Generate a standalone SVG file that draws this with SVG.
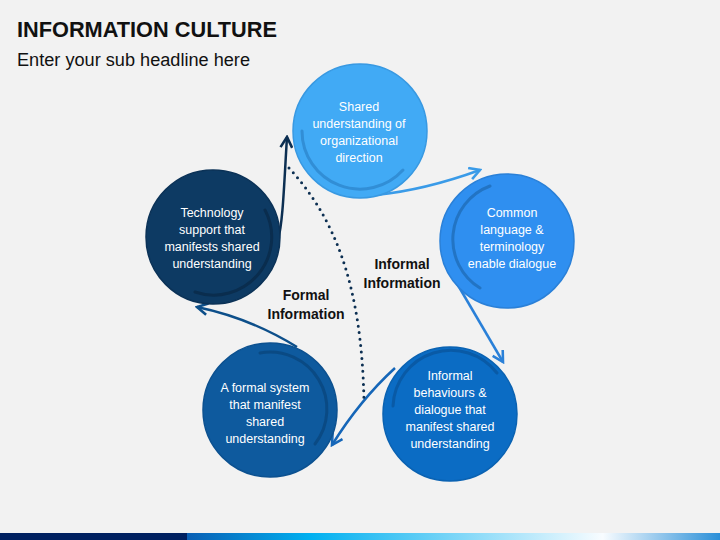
<svg xmlns="http://www.w3.org/2000/svg" width="720" height="540" viewBox="0 0 720 540">
  <style>
    .title { font-family: "Liberation Sans", Arial, sans-serif; font-weight: bold; font-size: 22px; fill: #111; }
    .sub { font-family: "Liberation Sans", Arial, sans-serif; font-size: 18px; fill: #111; }
    .nt { font-family: "Liberation Sans", Arial, sans-serif; font-size: 12.5px; fill: #ffffff; text-anchor: middle; }
    .lbl { font-family: "Liberation Sans", Arial, sans-serif; font-weight: bold; font-size: 14px; fill: #111; text-anchor: middle; }
    .arc { fill: none; stroke-width: 3; stroke-linecap: round; }
    .con { fill: none; stroke-width: 2.5; }
  </style>
  <defs>
    <linearGradient id="bar" x1="0" y1="0" x2="1" y2="0">
      <stop offset="0" stop-color="#0a5fb4"/>
      <stop offset="0.23" stop-color="#00b0f0"/>
      <stop offset="0.78" stop-color="#f8fcff"/>
      <stop offset="1" stop-color="#2a8fd8"/>
    </linearGradient>
    <marker id="a1" viewBox="0 0 12 12" refX="10" refY="6" markerWidth="14" markerHeight="14" markerUnits="userSpaceOnUse" orient="auto">
      <path d="M1,1 L10,6 L1,11" fill="none" stroke="#3a9be8" stroke-width="2.2"/>
    </marker>
    <marker id="a2" viewBox="0 0 12 12" refX="10" refY="6" markerWidth="14" markerHeight="14" markerUnits="userSpaceOnUse" orient="auto">
      <path d="M1,1 L10,6 L1,11" fill="none" stroke="#2a80d8" stroke-width="2.2"/>
    </marker>
    <marker id="a3" viewBox="0 0 12 12" refX="10" refY="6" markerWidth="14" markerHeight="14" markerUnits="userSpaceOnUse" orient="auto">
      <path d="M1,1 L10,6 L1,11" fill="none" stroke="#1566b8" stroke-width="2.2"/>
    </marker>
    <marker id="a4" viewBox="0 0 12 12" refX="10" refY="6" markerWidth="14" markerHeight="14" markerUnits="userSpaceOnUse" orient="auto">
      <path d="M1,1 L10,6 L1,11" fill="none" stroke="#0d4f8a" stroke-width="2.2"/>
    </marker>
    <marker id="a5" viewBox="0 0 12 12" refX="10" refY="6" markerWidth="14" markerHeight="14" markerUnits="userSpaceOnUse" orient="auto">
      <path d="M1,1 L10,6 L1,11" fill="none" stroke="#0c2f52" stroke-width="2.2"/>
    </marker>
  </defs>

  <rect width="720" height="540" fill="#f2f2f2"/>

  <g id="header">
    <text class="title" x="17" y="37" textLength="260" lengthAdjust="spacingAndGlyphs">INFORMATION CULTURE</text>
    <text class="sub" x="17" y="66" textLength="233" lengthAdjust="spacingAndGlyphs">Enter your sub headline here</text>
  </g>

  <g id="footer">
    <rect x="0" y="533" width="187" height="7" fill="#002060"/>
    <rect x="187" y="533" width="533" height="7" fill="url(#bar)"/>
  </g>

  <g id="connectors">
    <path class="con" d="M376,195 Q425,190 480,170" stroke="#3a9be8" marker-end="url(#a1)"/>
    <path class="con" d="M452,275 L503,362" stroke="#2a80d8" marker-end="url(#a2)"/>
    <path class="con" d="M395,368 Q360,400 332,445" stroke="#1566b8" marker-end="url(#a3)"/>
    <path class="con" d="M297,347 Q250,318 197,307" stroke="#0d4f8a" marker-end="url(#a4)"/>
    <path class="con" d="M278,240 C283,222 284,185 287,137" stroke="#0c2f52" marker-end="url(#a5)"/>
    <path d="M289,168 C332,215 362,280 364,403" fill="none" stroke="#0c2f52" stroke-width="3" stroke-linecap="round" stroke-dasharray="0 6.5"/>
  </g>

  <g id="node-shared">
    <circle cx="360" cy="131" r="67" fill="#41aaf5" stroke="#3899e2" stroke-width="1.5"/>
    <path class="arc" d="M302,131 A58,58 0 0 0 403,170" stroke="#318ed6"/>
    <text class="nt" x="359" y="111">Shared</text>
    <text class="nt" x="359" y="128">understanding of</text>
    <text class="nt" x="359" y="145">organizational</text>
    <text class="nt" x="359" y="162">direction</text>
  </g>

  <g id="node-common">
    <circle cx="507" cy="241" r="67" fill="#2f8ff0" stroke="#2a80d8" stroke-width="1.5"/>
    <path class="arc" d="M490,186 A57,57 0 0 0 480,288" stroke="#2274c4"/>
    <text class="nt" x="512" y="217">Common</text>
    <text class="nt" x="512" y="234">language &amp;</text>
    <text class="nt" x="512" y="251">terminology</text>
    <text class="nt" x="512" y="268">enable dialogue</text>
  </g>

  <g id="node-informal">
    <circle cx="450" cy="414" r="67" fill="#0b6cc4" stroke="#0a62b2" stroke-width="1.5"/>
    <path class="arc" d="M393,406 A58,58 0 0 1 497,373" stroke="#095aa6"/>
    <text class="nt" x="450" y="380">Informal</text>
    <text class="nt" x="450" y="397">behaviours &amp;</text>
    <text class="nt" x="450" y="414">dialogue that</text>
    <text class="nt" x="450" y="431">manifest shared</text>
    <text class="nt" x="450" y="448">understanding</text>
  </g>

  <g id="node-formal">
    <circle cx="270" cy="410" r="67" fill="#0e5a9e" stroke="#0c5190" stroke-width="1.5"/>
    <path class="arc" d="M260,353 A57,57 0 0 1 315,444" stroke="#0a4a84"/>
    <text class="nt" x="265" y="392">A formal system</text>
    <text class="nt" x="265" y="409">that manifest</text>
    <text class="nt" x="265" y="426">shared</text>
    <text class="nt" x="265" y="443">understanding</text>
  </g>

  <g id="node-technology">
    <circle cx="213" cy="237" r="67" fill="#0d3a63" stroke="#0b3257" stroke-width="1.5"/>
    <path class="arc" d="M265,210 A58,58 0 0 1 195,292" stroke="#0a2d4e"/>
    <text class="nt" x="212" y="217">Technology</text>
    <text class="nt" x="212" y="234">support that</text>
    <text class="nt" x="212" y="251">manifests shared</text>
    <text class="nt" x="212" y="268">understanding</text>
  </g>

  <g id="labels">
    <text class="lbl" x="306" y="300">Formal</text>
    <text class="lbl" x="306" y="319">Information</text>
    <text class="lbl" x="402" y="269">Informal</text>
    <text class="lbl" x="402" y="288">Information</text>
  </g>
</svg>
